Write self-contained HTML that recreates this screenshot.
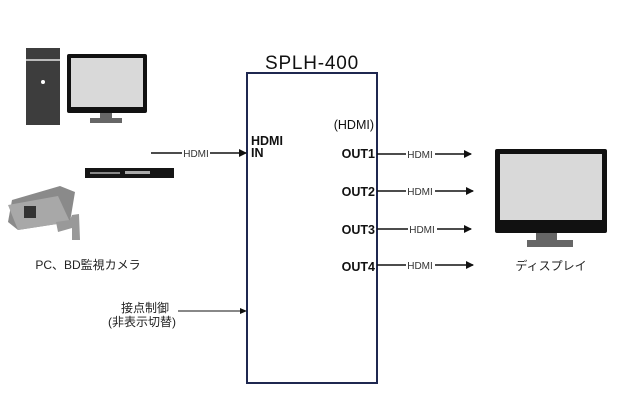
<!DOCTYPE html>
<html><head><meta charset="utf-8"><style>body{margin:0;background:#fff}</style></head><body>
<svg width="620" height="413" viewBox="0 0 620 413" xmlns="http://www.w3.org/2000/svg" font-family="'Liberation Sans','Noto Sans CJK JP',sans-serif">
<defs><marker id="a" markerWidth="8" markerHeight="8" refX="7" refY="4" orient="auto" markerUnits="userSpaceOnUse"><path d="M0,0 L8,4 L0,8 z" fill="#111"/></marker>
<marker id="b" markerWidth="7" markerHeight="6" refX="6" refY="3" orient="auto" markerUnits="userSpaceOnUse"><path d="M0,0 L7,3 L0,6 z" fill="#111"/></marker></defs>
<!-- PC -->
<rect x="26" y="48" width="34" height="77" fill="#3d3d3d"/>
<rect x="26" y="59" width="34" height="2" fill="#bbb"/>
<circle cx="43" cy="82" r="2" fill="#fff"/>
<rect x="67" y="54" width="80" height="59" rx="2" fill="#111"/>
<rect x="71" y="58" width="72" height="49" fill="#d9d9d9"/>
<rect x="100" y="113" width="12" height="5" fill="#666"/>
<rect x="90" y="118" width="32" height="5" fill="#666"/>
<!-- BD -->
<rect x="85" y="168" width="89" height="10" fill="#151515"/>
<rect x="90" y="172" width="30" height="2" fill="#888"/>
<rect x="125" y="171" width="25" height="3" fill="#aaa"/>
<!-- camera -->
<path d="M12,200 L60,186 L75,192 L70,222 L18,230 L8,222 Z" fill="#8a8a8a"/>
<path d="M8,205 L58,196 L70,222 L18,230 Z" fill="#a8a8a8"/>
<rect x="24" y="206" width="12" height="12" fill="#333"/>
<path d="M56,222 L70,220 L72,215 L79,214 L80,240 L72,240 L72,228 L58,232 Z" fill="#999"/>
<text x="88" y="269" font-size="12" text-anchor="middle" fill="#222">PC、BD監視カメラ</text>
<!-- main box -->
<rect x="247" y="73" width="130" height="310" fill="none" stroke="#1f2850" stroke-width="2"/>
<text x="312" y="69" font-size="19" text-anchor="middle" fill="#111" letter-spacing="0.8">SPLH-400</text>
<text x="251" y="145" font-size="12.5" font-weight="bold" fill="#111">HDMI</text>
<text x="251" y="157" font-size="12.5" font-weight="bold" fill="#111">IN</text>
<text x="374" y="129" font-size="12.5" text-anchor="end" fill="#111">(HDMI)</text>
<g font-size="12.5" font-weight="bold" text-anchor="end" fill="#111">
<text x="375" y="158">OUT1</text><text x="375" y="196">OUT2</text><text x="375" y="234">OUT3</text><text x="375" y="271">OUT4</text></g>
<!-- input arrow -->
<line x1="151" y1="153" x2="182" y2="153" stroke="#111" stroke-width="1.5"/>
<line x1="210" y1="153" x2="246" y2="153" stroke="#111" stroke-width="1.5" marker-end="url(#a)"/>
<text x="196" y="157" font-size="10" text-anchor="middle" fill="#333">HDMI</text>
<!-- outputs -->
<g stroke="#111" stroke-width="1.5">
<line x1="377" y1="154" x2="406" y2="154"/><line x1="435" y1="154" x2="471" y2="154" marker-end="url(#a)"/>
<line x1="377" y1="191" x2="406" y2="191"/><line x1="435" y1="191" x2="473" y2="191" marker-end="url(#a)"/>
<line x1="377" y1="229" x2="408" y2="229"/><line x1="437" y1="229" x2="471" y2="229" marker-end="url(#a)"/>
<line x1="377" y1="265" x2="406" y2="265"/><line x1="435" y1="265" x2="473" y2="265" marker-end="url(#a)"/>
</g>
<g font-size="10" text-anchor="middle" fill="#333">
<text x="420" y="158">HDMI</text><text x="420" y="195">HDMI</text><text x="422" y="233">HDMI</text><text x="420" y="269">HDMI</text></g>
<!-- display -->
<rect x="495" y="149" width="112" height="84" rx="2" fill="#111"/>
<rect x="500" y="154" width="102" height="66" fill="#d9d9d9"/>
<rect x="536" y="233" width="21" height="7" fill="#666"/>
<rect x="527" y="240" width="46" height="7" fill="#666"/>
<text x="551" y="270" font-size="12" text-anchor="middle" fill="#222">ディスプレイ</text>
<!-- control -->
<text x="145" y="312" font-size="12" text-anchor="middle" fill="#222">接点制御</text>
<text x="142" y="326" font-size="12" text-anchor="middle" fill="#222">(非表示切替)</text>
<line x1="178" y1="311" x2="246" y2="311" stroke="#111" stroke-width="1" marker-end="url(#b)"/>
</svg>
</body></html>
